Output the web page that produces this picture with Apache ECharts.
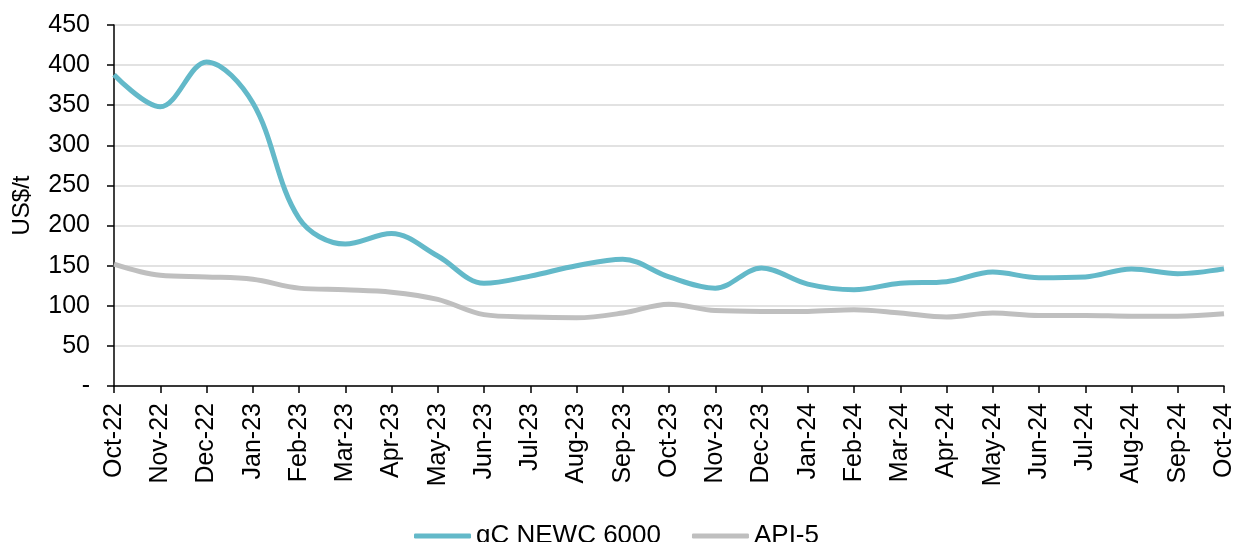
<!DOCTYPE html>
<html>
<head>
<meta charset="utf-8">
<script src="https://cdn.jsdelivr.net/npm/echarts@6/dist/echarts.min.js"></script>
<style>html,body{margin:0;padding:0;background:#fff}#c{width:1233px;height:542px}</style>
</head>
<body>
<div id="c"></div>
<script>
const categories = ['Oct-22','Nov-22','Dec-22','Jan-23','Feb-23','Mar-23','Apr-23','May-23','Jun-23','Jul-23','Aug-23','Sep-23','Oct-23','Nov-23','Dec-23','Jan-24','Feb-24','Mar-24','Apr-24','May-24','Jun-24','Jul-24','Aug-24','Sep-24','Oct-24'];
const newc = [388,348,404,353,209,177,190,162,128,137,150,158,136,122,147,127,120,128,130,142,135,136,146,140,146];
const api5 = [152,138,136,133,122,120,117,108,89,86,85,91,102,94,93,93,95,91,86,91,88,88,87,87,90];
const yTicks = [0,50,100,150,200,250,300,350,400,450];

const chart = echarts.init(document.getElementById('c'), null, {renderer:'canvas'});
const font = 'Liberation Sans, Arial, sans-serif';
chart.setOption({
  animation:false,
  grid:{left:114,right:9,top:25,bottom:156,containLabel:false,outerBoundsMode:'none'},
  legend:{
    top:518, left:'center',
    itemWidth:57, itemHeight:5, itemGap:31,
    textStyle:{fontFamily:font,fontSize:26,color:'#000'},
    icon:'roundRect',
    data:[{name:'gC NEWC 6000'},{name:'API-5'}]
  },
  xAxis:{
    type:'category', data:categories, boundaryGap:false,
    axisLine:{lineStyle:{color:'#000',width:1.5}},
    axisTick:{show:true,alignWithLabel:true,length:7,lineStyle:{color:'#000',width:1.5}},
    axisLabel:{rotate:90,interval:0,fontFamily:font,fontSize:25,color:'#000',margin:17},
    splitLine:{show:false}
  },
  yAxis:{
    type:'value', min:0, max:450, interval:50,
    name:'US$/t', nameLocation:'middle', nameGap:80, nameRotate:90,
    nameTextStyle:{fontFamily:font,fontSize:24,color:'#000'},
    axisLine:{show:true,lineStyle:{color:'#000',width:1.5}},
    axisTick:{show:true,length:7,lineStyle:{color:'#000',width:1.5}},
    axisLabel:{fontFamily:font,fontSize:25,color:'#000',margin:24,
      formatter:function(v){return yTicks.indexOf(v)>=0 ? (v===0?'-':String(v)) : '';}},
    splitLine:{show:true,lineStyle:{color:'#d9d9d9',width:1.5}}
  },
  series:[
    {name:'gC NEWC 6000',type:'line',data:newc,smooth:0.35,symbol:'none',
     lineStyle:{color:'#63b9c9',width:5},itemStyle:{color:'#63b9c9'}},
    {name:'API-5',type:'line',data:api5,smooth:0.35,symbol:'none',
     lineStyle:{color:'#bfbfbf',width:5},itemStyle:{color:'#bfbfbf'}}
  ]
});
</script>
</body>
</html>
